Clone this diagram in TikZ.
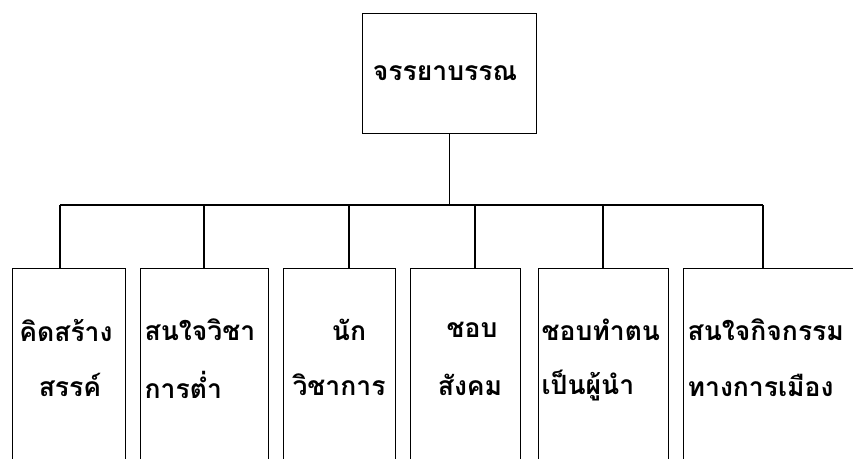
\documentclass[tikz,border=0pt]{standalone}
\usepackage{fontspec}
\newfontfamily\thaifont[Script=Thai]{Loma}
\begin{document}
\begin{tikzpicture}[x=1pt,y=-1pt,
  line width=1.3pt,
  box/.style={draw, rectangle, anchor=north west, inner sep=0pt},
  lbl/.style={font=\thaifont\bfseries\fontsize{26.5}{26.5}\selectfont, inner sep=0pt}]
\useasboundingbox (0,0) rectangle (853,458);
\clip (0,0) rectangle (853,458);
% top box
\node[box, minimum width=174pt, minimum height=120pt] (top) at (362,13) {};
\node[lbl] (ttop) at (445,73) {จรรยาบรรณ};
% bus
\coordinate (c1) at (60,205);
\coordinate (c2) at (204,205);
\coordinate (c3) at (349,205);
\coordinate (c4) at (475,205);
\coordinate (c5) at (603,205);
\coordinate (c6) at (763,205);
% bottom boxes
\node[box, minimum width=113pt, minimum height=220pt] (b1) at (12,268) {};
\node[box, minimum width=128pt, minimum height=220pt] (b2) at (140,268) {};
\node[box, minimum width=112pt, minimum height=220pt] (b3) at (283,268) {};
\node[box, minimum width=110pt, minimum height=220pt] (b4) at (410,268) {};
\node[box, minimum width=130pt, minimum height=220pt] (b5) at (538,268) {};
\node[box, minimum width=200pt, minimum height=220pt] (b6) at (683,268) {};
% connectors
\draw (top.south) -- (top.south |- c1);
\draw (c1) -- (c6);
\draw (c1) -- (c1 |- b1.north);
\draw (c2) -- (c2 |- b2.north);
\draw (c3) -- (c3 |- b3.north);
\draw (c4) -- (c4 |- b4.north);
\draw (c5) -- (c5 |- b5.north);
\draw (c6) -- (c6 |- b6.north);
% texts
\node[lbl] (t1a) at (66,330) {คิดสร้าง};
\node[lbl] (t1b) at (70,385) {สรรค์};
\node[lbl, anchor=west] (t2a) at (144,330) {สนใจวิชา};
\node[lbl, anchor=west] (t2b) at (144,385) {การต่ำ};
\node[lbl] (t3a) at (349,330) {นัก};
\node[lbl] (t3b) at (339,385) {วิชาการ};
\node[lbl] (t4a) at (472,330) {ชอบ};
\node[lbl] (t4b) at (470,385) {สังคม};
\node[lbl, anchor=west] (t5a) at (541,330) {ชอบทำตน};
\node[lbl, anchor=west] (t5b) at (541,385) {เป็นผู้นำ};
\node[lbl, anchor=west] (t6a) at (687,330) {สนใจกิจกรรม};
\node[lbl, anchor=west] (t6b) at (687,385) {ทางการเมือง};
\end{tikzpicture}
\end{document}
